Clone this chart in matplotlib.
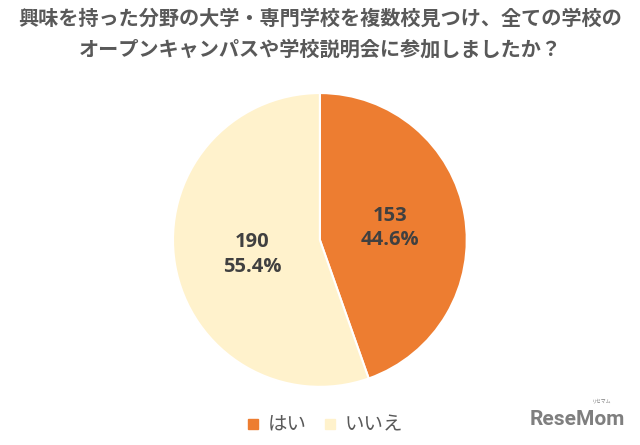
import matplotlib.pyplot as plt
from matplotlib.lines import Line2D

# data
labels = ["はい", "いいえ"]
counts = [153, 190]
colors = ["#ED7D31", "#FFF2CC"]
title = "興味を持った分野の大学・専門学校を複数校見つけ、全ての学校の\nオープンキャンパスや学校説明会に参加しましたか？"

plt.rcParams['font.family'] = ['Noto Sans CJK JP', 'DejaVu Sans']

fig = plt.figure(figsize=(6.4, 4.45), dpi=100)
fig.patch.set_facecolor("white")

fig.text(0.5, 0.982, title, ha="center", va="top", fontsize=14.5,
         color="#595959", fontweight="bold", linespacing=1.55)

ax = fig.add_axes([0.2703, 0.1303, 0.459, 0.661])
total = sum(counts)
wedges, _ = ax.pie(counts, colors=colors, startangle=90, counterclock=False,
                   wedgeprops=dict(edgecolor="white", linewidth=1.5))
ax.set_xlim(-1, 1)
ax.set_ylim(-1, 1)
ax.set_aspect("equal")

# value labels
pos = [(0.48, 0.08), (-0.46, -0.1)]
for c, (x, y) in zip(counts, pos):
    ax.text(x, y, f"{c}\n{c / total * 100:.1f}%", ha="center", va="center",
            fontsize=14.5, fontweight="bold", color="#404040",
            family=["Open Sans", "DejaVu Sans"], linespacing=1.3)

# legend
handles = [Line2D([], [], marker="s", linestyle="", markersize=7,
                  markerfacecolor=col, markeredgecolor=col) for col in colors]
fig.legend(handles, labels, loc="center", bbox_to_anchor=(0.505, 0.045),
           ncol=2, frameon=False, fontsize=14, labelcolor="#595959",
           handletextpad=0.25, columnspacing=0.7, handlelength=1.0)

# logo
fig.text(0.977, 0.058, "ReseMom", ha="right", va="center", fontsize=15,
         fontweight="bold", color="#7f7f7f", family=["Roboto", "DejaVu Sans"])
fig.text(0.955, 0.1, "リセマム", ha="right", va="center", fontsize=3.5,
         color="#7f7f7f")

fig.savefig("out.png", dpi=100)
